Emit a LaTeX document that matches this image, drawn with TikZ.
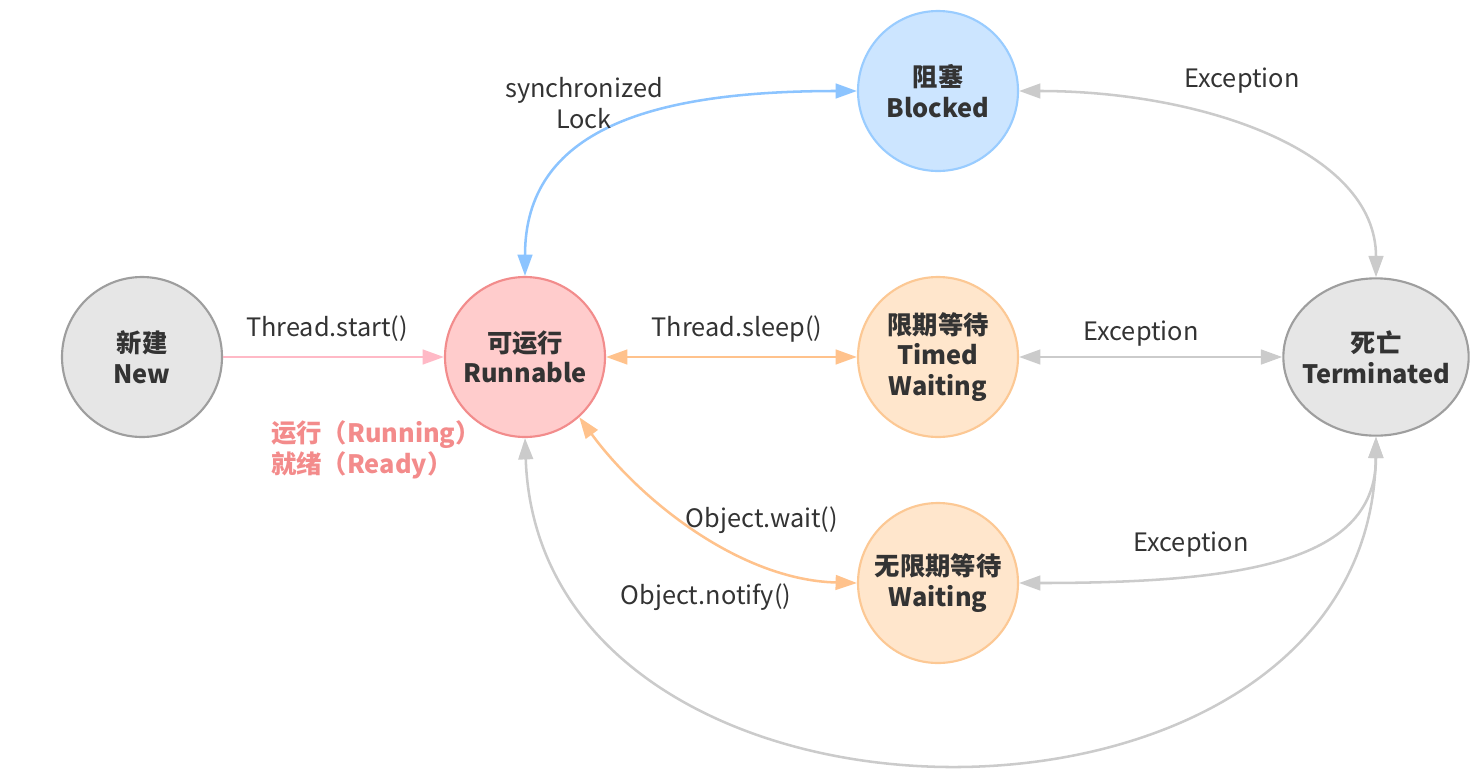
\documentclass[tikz,border=0pt]{standalone}
\usepackage{fontspec}
\setmainfont{Noto Sans CJK SC}
\usetikzlibrary{arrows.meta,shapes.geometric}
\definecolor{txt}{HTML}{333333}
\definecolor{grayfill}{HTML}{E6E6E6}
\definecolor{graydraw}{HTML}{9E9E9E}
\definecolor{redfill}{HTML}{FFCCCC}
\definecolor{reddraw}{HTML}{F28C8C}
\definecolor{bluefill}{HTML}{CCE5FF}
\definecolor{bluedraw}{HTML}{99CCFF}
\definecolor{orangefill}{HTML}{FFE6CC}
\definecolor{orangedraw}{HTML}{FCC894}
\definecolor{edgegray}{HTML}{CBCBCB}
\definecolor{edgeorange}{HTML}{FFC28C}
\definecolor{edgeblue}{HTML}{8CC4FF}
\definecolor{edgepink}{HTML}{FFB9C6}
\definecolor{redtext}{HTML}{F38B8B}
\begin{document}
\begin{tikzpicture}[x=0.75pt,y=-0.75pt,
  state/.style={circle, draw, line width=1.6pt, minimum size=120pt, inner sep=0pt,
    align=center, font=\bfseries\fontsize{19}{23}\selectfont, text=txt},
  lbl/.style={font=\fontsize{19}{23}\selectfont, text=txt, align=center, inner sep=0pt},
  conn/.style={line width=1.9pt, {Triangle[length=16pt,width=11pt]}-{Triangle[length=16pt,width=11pt]}},
  oneway/.style={line width=1.9pt, -{Triangle[length=16pt,width=11pt]}}]
\useasboundingbox (0,0) rectangle (1482,779);

% states
\node[state, fill=grayfill, draw=graydraw] (new) at (142,357) {新建\\New};
\node[state, fill=redfill, draw=reddraw] (run) at (525,357) {可运行\\Runnable};
\node[state, fill=bluefill, draw=bluedraw] (blk) at (938,91) {阻塞\\Blocked};
\node[state, fill=orangefill, draw=orangedraw] (timed) at (938,357) {限期等待\\Timed\\Waiting};
\node[state, fill=orangefill, draw=orangedraw] (wait) at (938,583) {无限期等待\\Waiting};
\node[ellipse, line width=1.6pt, minimum width=139pt, minimum height=118pt, inner sep=0pt,
  fill=grayfill, draw=graydraw] (term) at (1376,357) {};
\node[lbl, font=\bfseries\fontsize{19}{23}\selectfont] (termtext) at (term.center) {死亡\\Terminated};

% connectors
\draw[oneway, draw=edgepink] (new.east) -- (run.west);
\draw[conn, draw=edgeblue] (run.north) .. controls (525,130) and (650,91) .. (blk.west);
\draw[conn, draw=edgeorange] (run.east) -- (timed.west);
\draw[conn, draw=edgeorange] (run.-48) .. controls (640,500) and (740,580) .. (wait.west);
\draw[conn, draw=edgegray] (blk.east) .. controls (1200,91) and (1376,150) .. (term.north);
\draw[conn, draw=edgegray] (timed.east) -- (term.west);
\draw[conn, draw=edgegray] (wait.east) .. controls (1250,583) and (1376,560) .. (term.south);
\draw[conn, draw=edgegray] (run.south) .. controls (540,870) and (1370,870) .. (term.south);

% labels
\node[lbl] (lstart) at (327,329) {Thread.start()};
\node[lbl] (lsync) at (584,103) {synchronized\\Lock};
\node[lbl] (lsleep) at (737,329) {Thread.sleep()};
\node[lbl] (lexc1) at (1242,81) {Exception};
\node[lbl] (lexc2) at (1141,334) {Exception};
\node[lbl] (lexc3) at (1191,545) {Exception};
\node[lbl] (lwait) at (762,520) {Object.wait()};
\node[lbl] (lnotify) at (706,597) {Object.notify()};
\node[lbl, anchor=west, align=left, text=redtext, font=\bfseries\fontsize{19}{23}\selectfont] (lrun) at (271,450) {运行（Running）\\就绪（Ready）};
\end{tikzpicture}
\end{document}
